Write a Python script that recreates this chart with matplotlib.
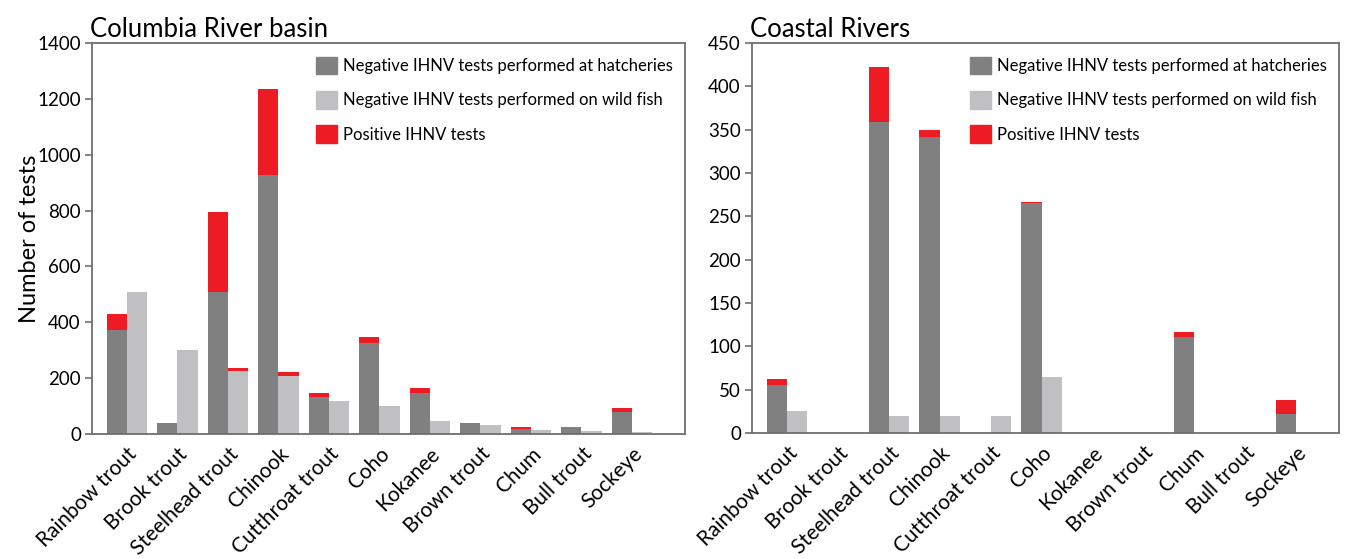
import matplotlib.pyplot as plt
from matplotlib.patches import Patch

plt.rcParams['font.family'] = ['Lato', 'DejaVu Sans']

species = ['Rainbow trout', 'Brook trout', 'Steelhead trout', 'Chinook', 'Cutthroat trout',
           'Coho', 'Kokanee', 'Brown trout', 'Chum', 'Bull trout', 'Sockeye']

# Columbia River basin
col_hatch_neg = [372, 38, 509, 927, 134, 327, 146, 39, 19, 24, 78]
col_hatch_pos = [56, 0, 286, 308, 14, 21, 20, 0, 7, 0, 16]
col_wild_neg = [508, 301, 226, 208, 118, 100, 46, 32, 13, 11, 6]
col_wild_pos = [2, 0, 11, 13, 0, 0, 2, 0, 3, 0, 2]

# Coastal Rivers
cst_hatch_neg = [55, 0, 359, 341, 0, 265, 0, 0, 111, 0, 22]
cst_hatch_pos = [7, 0, 63, 9, 0, 2, 0, 0, 5, 0, 16]
cst_wild_neg = [25, 0, 20, 20, 20, 65, 0, 0, 0, 0, 0]
cst_wild_pos = [0, 0, 0, 0, 0, 0, 0, 0, 0, 0, 0]

dark = '#808080'
light = '#c0c0c2'
red = '#ed1c24'
spine_col = '#6e6e6e'
w = 0.4


def panel(ax, title, hn, hp, wn, wp, ymax, ystep, xright):
    x = list(range(len(species)))
    xh = [i - w / 2 for i in x]
    xw = [i + w / 2 for i in x]
    ax.bar(xh, hn, width=w, color=dark, linewidth=0)
    ax.bar(xh, hp, width=w, bottom=hn, color=red, linewidth=0)
    ax.bar(xw, wn, width=w, color=light, linewidth=0)
    ax.bar(xw, wp, width=w, bottom=wn, color=red, linewidth=0)

    ax.set_xlim(-0.69, len(species) - 1 + xright)
    ax.set_ylim(0, ymax)
    ax.set_yticks(range(0, ymax + 1, ystep))
    ax.set_xticks(x)
    ax.set_xticklabels(species, rotation=45, ha='right', va='top',
                       rotation_mode='anchor', fontsize=15)
    ax.tick_params(axis='x', length=0, pad=7)
    ax.tick_params(axis='y', length=5, width=1.2, color=spine_col, labelsize=13.5, pad=3)
    for s in ax.spines.values():
        s.set_color(spine_col)
        s.set_linewidth(1.3)
    ax.set_title(title, loc='left', fontsize=18.5, pad=4, x=-0.003)

    handles = [Patch(color=dark, label='Negative IHNV tests performed at hatcheries'),
               Patch(color=light, label='Negative IHNV tests performed on wild fish'),
               Patch(color=red, label='Positive IHNV tests')]
    ax.legend(handles=handles, loc='upper right', frameon=False, fontsize=12,
              handlelength=1.25, handleheight=1.25, handletextpad=0.4,
              labelspacing=1.0, bbox_to_anchor=(1.0, 0.995), borderaxespad=0.3)


fig = plt.figure(figsize=(13.46, 5.59), dpi=100)
ax1 = fig.add_axes([92 / 1346, 125 / 559, 593 / 1346, 391 / 559])
ax2 = fig.add_axes([752 / 1346, 126 / 559, 587 / 1346, 390 / 559])

panel(ax1, 'Columbia River basin', col_hatch_neg, col_hatch_pos, col_wild_neg, col_wild_pos,
      1400, 200, 1.05)
panel(ax2, 'Coastal Rivers', cst_hatch_neg, cst_hatch_pos, cst_wild_neg, cst_wild_pos,
      450, 50, 0.84)
ax1.set_ylabel('Number of tests', fontsize=17)
ax1.yaxis.set_label_coords(-0.088, 0.5)

fig.savefig('out.png', dpi=100)
